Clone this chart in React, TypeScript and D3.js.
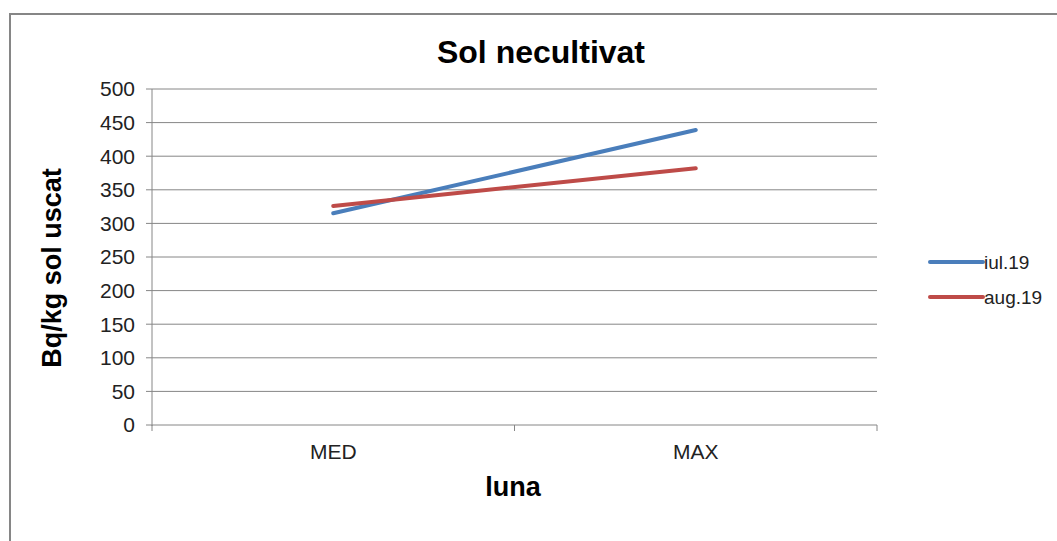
import React from "react";
import * as d3 from "d3";

const categories = ["MED", "MAX"];
const seriesNames = ["iul.19", "aug.19"];
const iul19 = [315, 439];
const aug19 = [326, 382];
const yTicks = [0, 50, 100, 150, 200, 250, 300, 350, 400, 450, 500];
const colors = ["#4A7EBB", "#BE4B48"];

export default function App() {
  const W = 1057, H = 541;
  const left = 152, right = 877, top = 89, bottom = 425;
  const x = d3.scaleBand<string>().domain(categories).range([left, right]);
  const y = d3.scaleLinear().domain([0, 500]).range([bottom, top]);
  const series = [iul19, aug19];
  const line = d3
    .line<number>()
    .x((_, i) => (x(categories[i]) as number) + x.bandwidth() / 2)
    .y((d) => y(d));
  const font = "'Liberation Sans', Arial, sans-serif";
  const gridColor = "#868686";
  return (
    <svg
      width={W}
      height={H}
      style={{ position: "absolute", left: 0, top: 0, background: "#fff" }}
      fontFamily={font}
    >
      <rect x={10} y={14} width={W + 10} height={H + 10} fill="#fff" stroke="#868686" strokeWidth={2} />
      {yTicks.map((t) => (
        <g key={t}>
          <line x1={left - 6} x2={right} y1={y(t)} y2={y(t)} stroke={gridColor} strokeWidth={1} />
          <text x={left - 17} y={y(t)} dy="0.35em" textAnchor="end" fontSize={21} fill="#222">
            {t}
          </text>
        </g>
      ))}
      <line x1={left} x2={left} y1={top} y2={bottom + 1} stroke={gridColor} strokeWidth={1} />
      {[left, ...categories.map((c) => (x(c) as number) + x.bandwidth())].map((px, i) => (
        <line key={i} x1={px} x2={px} y1={bottom} y2={bottom + 6} stroke={gridColor} strokeWidth={1} />
      ))}
      {categories.map((c) => (
        <text key={c} x={(x(c) as number) + x.bandwidth() / 2} y={bottom + 34} textAnchor="middle" fontSize={21} fill="#222">
          {c}
        </text>
      ))}
      {series.map((s, i) => (
        <path key={i} d={line(s) || ""} fill="none" stroke={colors[i]} strokeWidth={4} strokeLinecap="round" />
      ))}
      <text x={541} y={63} textAnchor="middle" fontSize={32} fontWeight="bold" fill="#000">
        Sol necultivat
      </text>
      <text x={513} y={496} textAnchor="middle" fontSize={27} fontWeight="bold" fill="#000">
        luna
      </text>
      <text
        transform={`translate(61, 268) rotate(-90)`}
        textAnchor="middle"
        fontSize={27}
        fontWeight="bold"
        fill="#000"
      >
        Bq/kg sol uscat
      </text>
      {seriesNames.map((n, i) => (
        <g key={n}>
          <line x1={930} x2={983} y1={262 + i * 35} y2={262 + i * 35} stroke={colors[i]} strokeWidth={4} strokeLinecap="round" />
          <text x={984} y={262 + i * 35} dy="0.35em" fontSize={19} fill="#222">
            {n}
          </text>
        </g>
      ))}
    </svg>
  );
}
